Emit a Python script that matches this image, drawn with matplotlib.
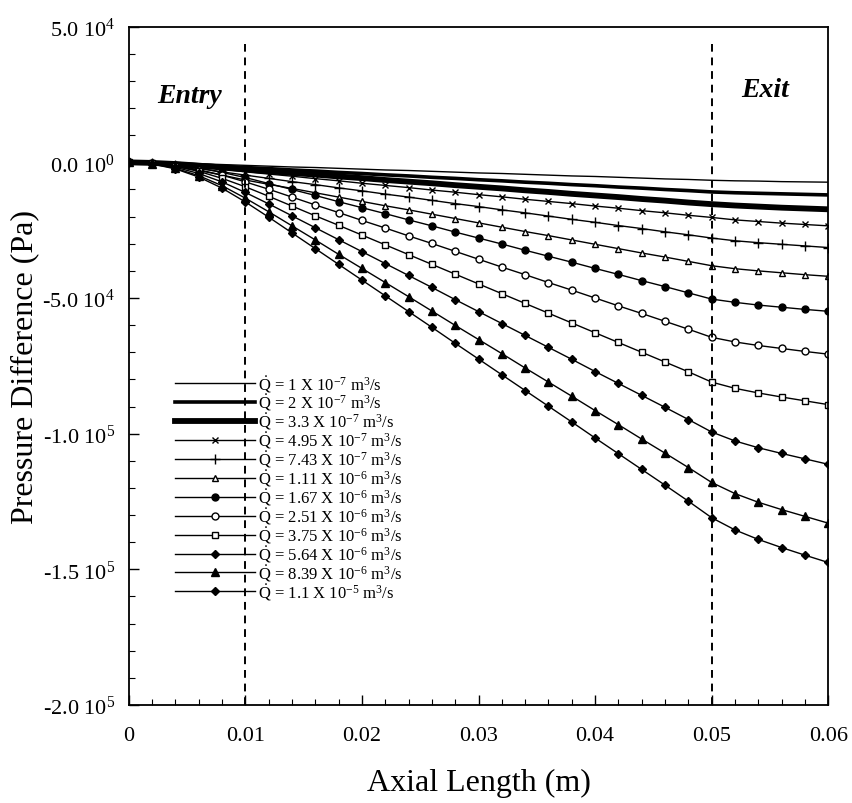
import numpy as np
import matplotlib
matplotlib.use("Agg")
import matplotlib.pyplot as plt
from matplotlib.ticker import MultipleLocator, FixedLocator, FixedFormatter

plt.rcParams['font.family'] = ['Liberation Serif', 'DejaVu Serif']
plt.rcParams['mathtext.fontset'] = 'custom'
plt.rcParams['mathtext.rm'] = 'Liberation Serif'
plt.rcParams['mathtext.it'] = 'Liberation Serif:italic'
plt.rcParams['mathtext.bf'] = 'Liberation Serif:bold'

# axial positions (m)
x_pos = [0.000, 0.002, 0.004, 0.006, 0.008, 0.010, 0.012, 0.014, 0.016, 0.018,
         0.020, 0.022, 0.024, 0.026, 0.028, 0.030, 0.032, 0.034, 0.036, 0.038,
         0.040, 0.042, 0.044, 0.046, 0.048, 0.050, 0.052, 0.054, 0.056, 0.058, 0.060]

# pressure difference, kPa (negative drop)
q1 = [0, 0.1, 0.3, 0.5, 0.8, 1.1, 1.4, 1.7, 1.9, 2.2, 2.5, 2.8, 3.0, 3.3, 3.6, 3.9,
      4.1, 4.4, 4.7, 5.0, 5.2, 5.5, 5.8, 6.1, 6.3, 6.6, 6.8, 6.9, 7.1, 7.2, 7.3]
q2 = [0, 0.1, 0.4, 0.9, 1.4, 1.9, 2.3, 2.8, 3.2, 3.7, 4.1, 4.6, 5.0, 5.5, 5.9, 6.4,
      6.8, 7.3, 7.7, 8.2, 8.6, 9.1, 9.5, 10.0, 10.4, 10.9, 11.2, 11.4, 11.6, 11.8, 12.0]
q3 = [0, 0.2, 0.6, 1.2, 1.9, 2.6, 3.3, 3.9, 4.5, 5.2, 5.8, 6.5, 7.1, 7.7, 8.4, 9.0,
      9.6, 10.3, 10.9, 11.6, 12.2, 12.8, 13.5, 14.1, 14.8, 15.4, 15.9, 16.3, 16.7, 17.0, 17.3]
q4 = [0, 0.2, 0.8, 1.6, 2.5, 3.5, 4.3, 5.1, 6.0, 6.8, 7.7, 8.5, 9.3, 10.2, 11.0, 11.9,
      12.7, 13.6, 14.4, 15.2, 16.1, 16.9, 17.8, 18.6, 19.5, 20.3, 21.2, 21.8, 22.4, 22.9, 23.4]
q5 = [0, 0.3, 1.1, 2.2, 3.5, 4.7, 5.9, 7.1, 8.2, 9.4, 10.5, 11.7, 12.8, 14.0, 15.2, 16.3,
      17.5, 18.6, 19.8, 21.0, 22.1, 23.3, 24.4, 25.6, 26.7, 27.9, 28.9, 29.6, 30.2, 30.8, 31.4]
q6 = [0, 0.5, 1.5, 3.0, 4.7, 6.5, 8.1, 9.6, 11.2, 12.8, 14.4, 16.0, 17.5, 19.1, 20.7, 22.3,
      23.9, 25.5, 27.0, 28.6, 30.2, 31.8, 33.4, 34.9, 36.5, 38.1, 39.2, 40.0, 40.7, 41.4, 42.0]
q7 = [0, 0.2, 0.9, 2.1, 3.7, 5.6, 7.8, 10.0, 12.2, 14.5, 16.7, 18.9, 21.2, 23.4, 25.7, 27.9,
      30.1, 32.4, 34.6, 36.8, 39.1, 41.3, 43.6, 45.8, 48.1, 50.4, 51.6, 52.6, 53.4, 54.2, 54.9]
q8 = [0, 0.3, 1.2, 2.7, 4.7, 7.2, 9.9, 12.8, 15.7, 18.5, 21.4, 24.2, 27.1, 29.9, 32.8, 35.7,
      38.6, 41.4, 44.3, 47.1, 50.0, 52.9, 55.7, 58.6, 61.5, 64.5, 66.2, 67.5, 68.6, 69.7, 70.7]
q9 = [0, 0.4, 1.5, 3.3, 5.9, 9.0, 12.5, 16.1, 19.7, 23.2, 26.8, 30.4, 34.0, 37.6, 41.2, 44.8,
      48.4, 52.0, 55.6, 59.2, 62.8, 66.4, 70.0, 73.6, 77.2, 81.0, 83.3, 85.0, 86.5, 87.9, 89.3]
q10 = [0, 0.5, 1.8, 4.1, 7.2, 11.1, 15.3, 19.7, 24.1, 28.5, 32.9, 37.3, 41.7, 46.1, 50.6, 55.0,
       59.4, 63.8, 68.2, 72.6, 77.1, 81.5, 85.9, 90.3, 94.8, 99.4, 102.7, 105.2, 107.3, 109.3, 111.3]
q11 = [0, 0.5, 2.2, 4.9, 8.6, 13.2, 18.2, 23.4, 28.6, 33.9, 39.1, 44.3, 49.5, 54.8, 60.1, 65.3,
       70.5, 75.8, 81.0, 86.2, 91.5, 96.7, 102.0, 107.2, 112.5, 118.0, 122.1, 125.3, 128.0, 130.5, 133.0]
q12 = [0, 0.6, 2.4, 5.4, 9.5, 14.6, 20.2, 26.0, 31.8, 37.6, 43.4, 49.2, 55.0, 60.8, 66.7, 72.5,
       78.3, 84.1, 89.9, 95.7, 101.6, 107.4, 113.2, 119.0, 124.9, 131.0, 135.5, 139.0, 142.0, 144.8, 147.5]

labels = [r"$\dot{\mathrm{Q}}$ = 1 X 10$^{-7}$ m$^{3}$/s",
          r"$\dot{\mathrm{Q}}$ = 2 X 10$^{-7}$ m$^{3}$/s",
          r"$\dot{\mathrm{Q}}$ = 3.3 X 10$^{-7}$ m$^{3}$/s",
          r"$\dot{\mathrm{Q}}$ = 4.95 X 10$^{-7}$ m$^{3}$/s",
          r"$\dot{\mathrm{Q}}$ = 7.43 X 10$^{-7}$ m$^{3}$/s",
          r"$\dot{\mathrm{Q}}$ = 1.11 X 10$^{-6}$ m$^{3}$/s",
          r"$\dot{\mathrm{Q}}$ = 1.67 X 10$^{-6}$ m$^{3}$/s",
          r"$\dot{\mathrm{Q}}$ = 2.51 X 10$^{-6}$ m$^{3}$/s",
          r"$\dot{\mathrm{Q}}$ = 3.75 X 10$^{-6}$ m$^{3}$/s",
          r"$\dot{\mathrm{Q}}$ = 5.64 X 10$^{-6}$ m$^{3}$/s",
          r"$\dot{\mathrm{Q}}$ = 8.39 X 10$^{-6}$ m$^{3}$/s",
          r"$\dot{\mathrm{Q}}$ = 1.1 X 10$^{-5}$ m$^{3}$/s"]

series = [q1, q2, q3, q4, q5, q6, q7, q8, q9, q10, q11, q12]

# (linewidth, marker, markerfacecolor, markersize)
styles = [(1.0, None, 'k', 0),
          (2.6, None, 'k', 0),
          (4.2, None, 'k', 0),
          (1.0, 'x', 'k', 5),
          (1.0, '+', 'k', 7),
          (1.0, '^', 'white', 5),
          (1.0, 'o', 'k', 5),
          (1.0, 'o', 'white', 5),
          (1.0, 's', 'white', 5),
          (1.0, 'D', 'k', 4.5),
          (1.0, '^', 'k', 5.5),
          (1.0, 'D', 'k', 4)]

fig = plt.figure(figsize=(8.53, 8.04), dpi=100)
ax = fig.add_axes([0.151, 0.122, 0.82, 0.8435])

x = np.array(x_pos)
for vals, lab, (lw, mk, mfc, ms) in zip(series, labels, styles):
    y = -np.array(vals) * 1e3
    ax.plot(x, y, color='k', lw=lw, marker=mk, mfc=mfc, mec='k', ms=ms,
            mew=1.0, label=lab)

# entry / exit markers
ax.axvline(0.01, ymax=0.974, color='k', ls=(0, (4, 3)), lw=1.4)
ax.axvline(0.05, ymax=0.974, color='k', ls=(0, (4, 3)), lw=1.4)
ax.text(0.0052, 2.45e4, "Entry", fontsize=20, fontweight='bold', style='italic',
        ha='center', va='center')
ax.text(0.0546, 2.7e4, "Exit", fontsize=20, fontweight='bold', style='italic',
        ha='center', va='center')

ax.set_xlim(0, 0.06)
ax.set_ylim(-2e5, 5e4)

yt = [5e4, 0, -5e4, -1e5, -1.5e5, -2e5]
yl = [r"5.0 10$^{4}$", r"0.0 10$^{0}$", r"-5.0 10$^{4}$",
      r"-1.0 10$^{5}$", r"-1.5 10$^{5}$", r"-2.0 10$^{5}$"]
ax.yaxis.set_major_locator(FixedLocator(yt))
ax.yaxis.set_major_formatter(FixedFormatter(yl))
ax.yaxis.set_minor_locator(MultipleLocator(1e4))

xt = [0, 0.01, 0.02, 0.03, 0.04, 0.05, 0.06]
ax.xaxis.set_major_locator(FixedLocator(xt))
ax.xaxis.set_major_formatter(FixedFormatter(["0", "0.01", "0.02", "0.03", "0.04", "0.05", "0.06"]))
ax.xaxis.set_minor_locator(MultipleLocator(0.002))

ax.tick_params(which='both', direction='in', top=False, right=False, labelsize=16)
ax.tick_params(which='major', length=7, width=1.0)
ax.tick_params(which='minor', length=4, width=0.8)
ax.tick_params(axis='x', which='major', pad=15)
ax.tick_params(axis='y', which='major', pad=10)
for s in ax.spines.values():
    s.set_linewidth(1.3)

ax.set_xlabel("Axial Length (m)", fontsize=23, labelpad=17)
ax.set_ylabel("Pressure Difference (Pa)", fontsize=23, labelpad=2)

ax.legend(loc='upper left', bbox_to_anchor=(0.066, 0.49), frameon=False,
          numpoints=1, handlelength=4.8, fontsize=12, labelspacing=-0.12,
          handletextpad=0.2, borderaxespad=0, borderpad=0)

fig.savefig("out.png", dpi=100)
